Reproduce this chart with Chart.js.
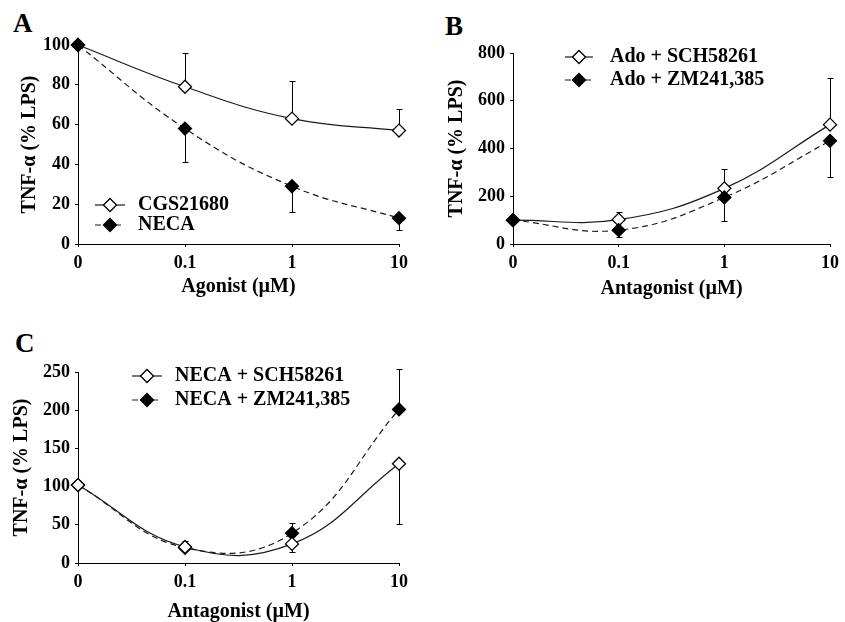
<!DOCTYPE html>
<html>
<head>
<meta charset="utf-8">
<script src="https://cdn.jsdelivr.net/npm/chart.js@4.4.0/dist/chart.umd.min.js"></script>
<style>
  html, body { margin: 0; padding: 0; background: #fff; }
  body { width: 845px; height: 622px; position: relative; overflow: hidden; }
  canvas { position: absolute; }
  .tag { position: absolute; font: bold 27px 'Liberation Serif', 'Times New Roman', serif; line-height: 1; }
</style>
</head>
<body>
<div class="tag" style="left:13px;top:10px">A</div>
<div class="tag" style="left:445px;top:13px">B</div>
<div class="tag" style="left:15px;top:330px">C</div>
<canvas id="chartA" width="420" height="300" style="left:0;top:0"></canvas>
<canvas id="chartB" width="425" height="300" style="left:420px;top:0"></canvas>
<canvas id="chartC" width="430" height="312" style="left:0;top:310px"></canvas>
<script>
// concentrations on the x axis (µM)
var doses = ['0', '0.1', '1', '10'];

// A: agonists
var cgs21680    = [100, 79, 63, 57];
var cgs21680Err = [0, 17, 19, 11];
var neca        = [100, 58, 29, 13];
var necaErr     = [0, 17, 13, 6];

// B: adenosine + antagonists
var adoSch    = [100, 102, 233, 500];
var adoSchErr = [0, 32, 80, 195];
var adoZm     = [100, 58, 195, 432];
var adoZmErr  = [0, 30, 100, 150];

// C: NECA + antagonists
var necaSch    = [102, 21, 25, 130];
var necaSchErr = [0, 0, 11, 79];
var necaZm     = [102, 20, 39, 201];
var necaZmErr  = [0, 9, 14, 53];

// y axis ranges
var yMaxA = 100, yStepA = 20;
var yMaxB = 800, yStepB = 200;
var yMaxC = 250, yStepC = 50;

Chart.defaults.color = '#000';
Chart.defaults.font.family = "'Liberation Serif', 'Times New Roman', serif";

var SERIF = "'Liberation Serif', 'Times New Roman', serif";

// one-sided SEM bars, drawn under the lines and markers
var errorBars = {
    id: 'errorBars',
    beforeDatasetsDraw: function (chart) {
        var ctx = chart.ctx;
        var yScale = chart.scales.y;
        ctx.save();
        ctx.strokeStyle = '#000';
        ctx.lineWidth = 1;
        chart.data.datasets.forEach(function (ds, i) {
            if (!ds.errors) return;
            chart.getDatasetMeta(i).data.forEach(function (pt, j) {
                var err = ds.errors[j];
                if (!err) return;
                var yEnd = Math.round(yScale.getPixelForValue(ds.data[j] + ds.errorDir * err)) + 0.5;
                var x = Math.round(pt.x) + 0.5;
                ctx.beginPath();
                ctx.moveTo(x, pt.y);
                ctx.lineTo(x, yEnd);
                ctx.moveTo(x - 3, yEnd);
                ctx.lineTo(x + 3, yEnd);
                ctx.stroke();
            });
        });
        ctx.restore();
    }
};

// legend entries as "line + marker + label"
var sampleLegend = {
    id: 'sampleLegend',
    afterDraw: function (chart, args, opts) {
        var ctx = chart.ctx;
        ctx.save();
        chart.data.datasets.forEach(function (ds, i) {
            var y = opts.y + i * opts.spacing;
            ctx.strokeStyle = ds.borderColor;
            ctx.lineWidth = ds.borderWidth;
            ctx.setLineDash(ds.borderDash || []);
            ctx.beginPath();
            ctx.moveTo(opts.x, y);
            ctx.lineTo(opts.x + opts.length, y);
            ctx.stroke();
            ctx.setLineDash([]);
            ctx.fillStyle = ds.pointBackgroundColor;
            ctx.strokeStyle = ds.pointBorderColor;
            ctx.lineWidth = ds.pointBorderWidth;
            Chart.helpers.drawPoint(ctx, {
                pointStyle: 'rectRot', radius: ds.pointRadius,
                borderWidth: ds.pointBorderWidth, rotation: 0
            }, opts.x + opts.length / 2, y);
            ctx.fillStyle = '#000';
            ctx.font = 'bold 20px ' + SERIF;
            ctx.textBaseline = 'middle';
            ctx.textAlign = 'left';
            ctx.fillText(ds.label, opts.x + opts.length + opts.gap, y);
        });
        ctx.restore();
    }
};

function series(label, values, errs, dir, filled, order) {
    return {
        label: label,
        data: values,
        errors: errs,
        errorDir: dir,
        borderColor: '#1a1a1a',
        borderWidth: 1.2,
        borderDash: filled ? [6, 4] : [],
        tension: 0.42,
        fill: false,
        clip: false,
        order: order,
        pointStyle: 'rectRot',
        pointRadius: 6.5,
        pointBorderWidth: 1.3,
        pointBorderColor: '#000',
        pointBackgroundColor: filled ? '#000' : '#fff'
    };
}

function panel(id, p) {
    return new Chart(document.getElementById(id), {
        type: 'line',
        data: { labels: doses, datasets: p.datasets },
        plugins: [errorBars, sampleLegend],
        options: {
            responsive: false,
            animation: false,
            events: [],
            layout: { padding: p.padding },
            plugins: {
                legend: { display: false },
                tooltip: { enabled: false },
                sampleLegend: p.legend
            },
            scales: {
                x: {
                    type: 'category',
                    offset: false,
                    grid: { drawOnChartArea: false, tickLength: 3, color: '#000' },
                    border: { color: '#000', width: 1 },
                    ticks: { padding: 6, font: { size: 18, weight: 'bold' }, color: '#000', maxRotation: 0 },
                    title: {
                        display: true, text: p.xTitle, color: '#000',
                        font: { size: 20, weight: 'bold', lineHeight: 1 },
                        padding: { top: 0, bottom: p.xTitlePad }
                    },
                    afterFit: function (s) { s.height = p.xHeight; }
                },
                y: {
                    min: 0,
                    max: p.yMax,
                    grid: { drawOnChartArea: false, tickLength: 3, color: '#000' },
                    border: { color: '#000', width: 1 },
                    ticks: { stepSize: p.yStep, padding: 5, font: { size: 18, weight: 'bold' }, color: '#000' },
                    title: {
                        display: true, text: 'TNF-α (% LPS)', color: '#000',
                        font: { size: 20, weight: 'bold', lineHeight: 1 },
                        padding: { top: p.yTitlePad, bottom: 0 }
                    },
                    afterFit: function (s) { s.width = p.yWidth; }
                }
            }
        }
    });
}

panel('chartA', {
    datasets: [
        series('CGS21680', cgs21680, cgs21680Err, 1, false, 1),
        series('NECA', neca, necaErr, -1, true, 0)
    ],
    yMax: yMaxA, yStep: yStepA,
    padding: { left: 0, top: 45, right: 21, bottom: 1 },
    yWidth: 78, yTitlePad: 20,
    xHeight: 55, xTitlePad: 2,
    xTitle: 'Agonist (µM)',
    legend: { x: 95, y: 205, spacing: 20, length: 30, gap: 13 }
});

panel('chartB', {
    datasets: [
        series('Ado + SCH58261', adoSch, adoSchErr, 1, false, 1),
        series('Ado + ZM241,385', adoZm, adoZmErr, -1, true, 0)
    ],
    yMax: yMaxB, yStep: yStepB,
    padding: { left: 0, top: 53, right: 12, bottom: 0 },
    yWidth: 93, yTitlePad: 27,
    xHeight: 56, xTitlePad: 1,
    xTitle: 'Antagonist (µM)',
    legend: { x: 145, y: 57, spacing: 23, length: 28, gap: 17 }
});

panel('chartC', {
    datasets: [
        series('NECA + SCH58261', necaSch, necaSchErr, -1, false, 0),
        series('NECA + ZM241,385', necaZm, necaZmErr, 1, true, 1)
    ],
    yMax: yMaxC, yStep: yStepC,
    padding: { left: 0, top: 62, right: 31, bottom: 0 },
    yWidth: 78, yTitlePad: 12,
    xHeight: 59, xTitlePad: 0,
    xTitle: 'Antagonist (µM)',
    legend: { x: 132, y: 66, spacing: 24, length: 30, gap: 13 }
});
</script>
</body>
</html>
